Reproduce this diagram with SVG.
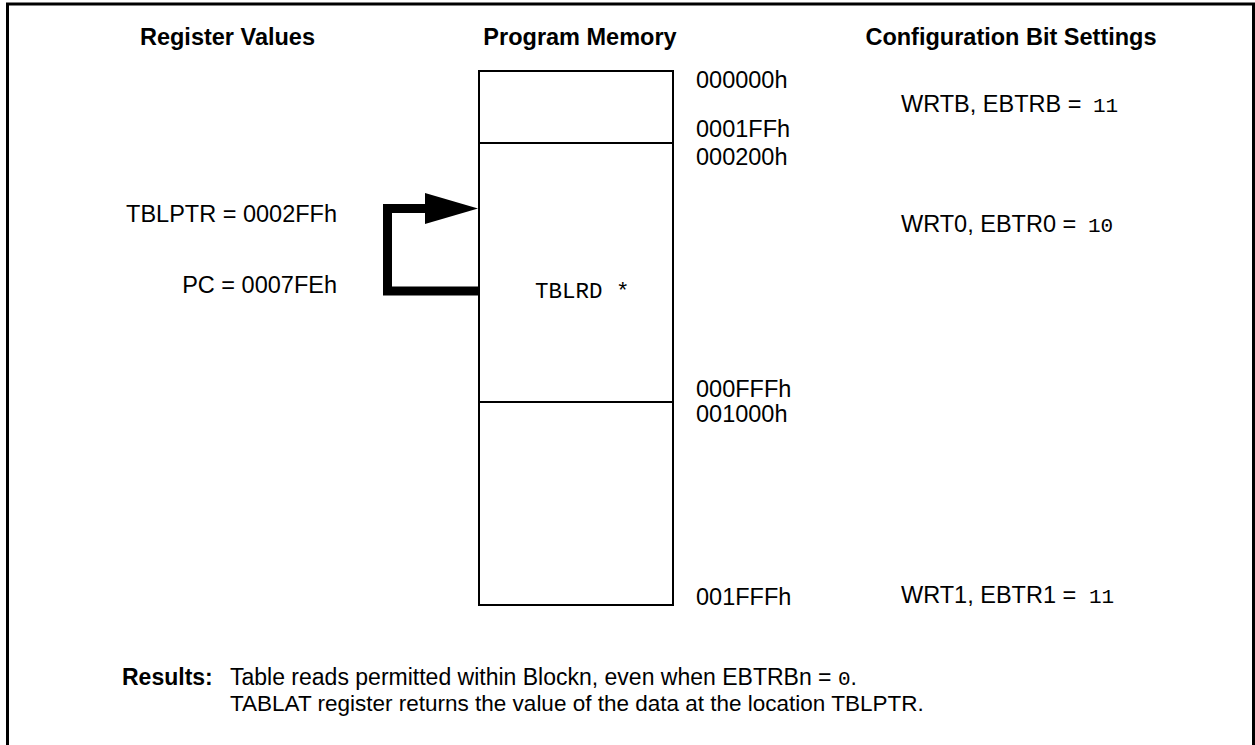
<svg xmlns="http://www.w3.org/2000/svg" width="1255" height="745" viewBox="0 0 1255 745">
<style>
  .h { font-family: "Liberation Sans", Arial, sans-serif; font-weight: bold; font-size: 23.5px; fill: #000; }
  .t { font-family: "Liberation Sans", Arial, sans-serif; font-size: 23.5px; fill: #000; }
  .m { font-family: "Liberation Mono", "Courier New", monospace; font-size: 21px; fill: #000; }
  .r { font-family: "Liberation Sans", Arial, sans-serif; font-size: 22.5px; fill: #000; }
  .box { fill: #fff; stroke: #000; stroke-width: 2; }
  .conn { fill: none; stroke: #000; stroke-width: 9; }
</style>
<rect width="1255" height="745" fill="#fff"/>
<rect x="7.5" y="4" width="1246" height="760" fill="none" stroke="#000" stroke-width="3"/>

<g id="headers">
  <text class="h" x="227.5" y="45" text-anchor="middle">Register Values</text>
  <text class="h" x="580" y="45" text-anchor="middle">Program Memory</text>
  <text class="h" x="1011" y="45" text-anchor="middle">Configuration Bit Settings</text>
</g>

<g id="program-memory">
  <rect class="box" x="479" y="71" width="194" height="534"/>
  <line x1="479" y1="143" x2="673" y2="143" stroke="#000" stroke-width="2"/>
  <line x1="479" y1="402" x2="673" y2="402" stroke="#000" stroke-width="2"/>
  <text class="m" x="535" y="298" style="font-size:22.5px">TBLRD *</text>
</g>

<g id="addresses">
  <text class="t" x="696" y="88">000000h</text>
  <text class="t" x="696" y="137">0001FFh</text>
  <text class="t" x="696" y="165">000200h</text>
  <text class="t" x="696" y="397">000FFFh</text>
  <text class="t" x="696" y="422">001000h</text>
  <text class="t" x="696" y="605">001FFFh</text>
</g>

<g id="register-values">
  <text class="t" x="337" y="222" text-anchor="end">TBLPTR = 0002FFh</text>
  <text class="t" x="337" y="293" text-anchor="end">PC = 0007FEh</text>
</g>

<g id="config-bits">
  <text class="t" x="901" y="112">WRTB, EBTRB = <tspan class="m" x="1093">11</tspan></text>
  <text class="t" x="901" y="232">WRT0, EBTR0 = <tspan class="m" x="1088">10</tspan></text>
  <text class="t" x="901" y="603">WRT1, EBTR1 = <tspan class="m" x="1089">11</tspan></text>
</g>

<g id="connectors">
  <path class="conn" d="M 427 208.5 H 387.5 V 291 H 479"/>
  <polygon points="425,193 478,208.5 425,224" fill="#000"/>
</g>

<g id="results">
  <text class="h" x="122" y="685" style="font-size:23px">Results:</text>
  <text class="r" x="230" y="685" style="font-size:23px">Table reads permitted within Blockn, even when EBTRBn = <tspan class="m">0</tspan>.</text>
  <text class="r" x="230" y="711">TABLAT register returns the value of the data at the location TBLPTR.</text>
</g>
</svg>
